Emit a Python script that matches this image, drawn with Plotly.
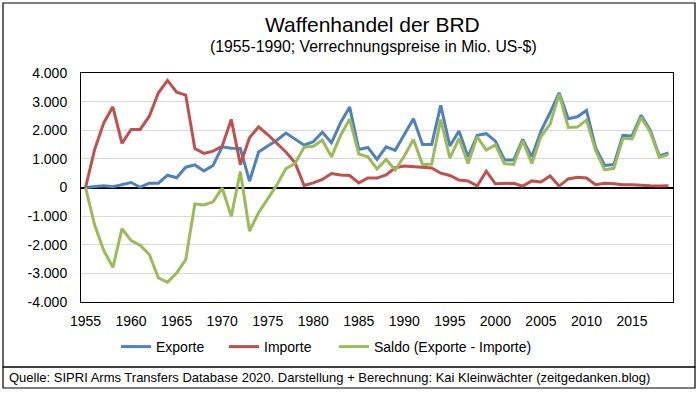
import plotly.graph_objects as go

years = list(range(1955, 2020))

exporte = [0, 20, 60, 30, 100, 175, 10, 150, 150, 430,
           340, 710, 790, 580, 770, 1420, 1370, 1360, 220, 1240,
           1450, 1650, 1900, 1700, 1480, 1600, 1930, 1560, 2260, 2810,
           1330, 1400, 980, 1420, 1300, 1850, 2400, 1500, 1500, 2870,
           1450, 1970, 1070, 1820, 1880, 1620, 960, 960, 1680, 1070,
           1970, 2610, 3310, 2400, 2470, 2690, 1390, 770, 800, 1820,
           1800, 2520, 2000, 1100, 1210]

importe = [0, 1330, 2260, 2820, 1540, 2030, 2030, 2490, 3310, 3740,
           3330, 3230, 1360, 1190, 1270, 1440, 2380, 800, 1740, 2120,
           1850, 1560, 1240, 860, 70, 160, 280, 490, 440, 420,
           160, 330, 330, 440, 690, 750, 720, 700, 680, 500,
           420, 260, 230, 50, 570, 130, 130, 150, 50, 230,
           190, 400, 50, 300, 360, 330, 100, 150, 130, 100,
           100, 70, 60, 50, 60]

saldo = [0, -1310, -2200, -2790, -1440, -1855, -2020, -2340, -3160, -3310,
         -2990, -2520, -570, -610, -500, -20, -1010, 560, -1520, -880,
         -400, 90, 660, 840, 1410, 1440, 1650, 1070, 1820, 2390,
         1170, 1070, 650, 980, 610, 1100, 1680, 800, 820, 2370,
         1030, 1710, 840, 1770, 1310, 1490, 830, 810, 1630, 840,
         1780, 2210, 3260, 2100, 2110, 2360, 1290, 620, 670, 1720,
         1700, 2450, 1940, 1050, 1150]

y_tickvals = [-4000, -3000, -2000, -1000, 0, 1000, 2000, 3000, 4000]
y_ticktext = ["-4.000", "-3.000", "-2.000", "-1.000", "0", "1.000", "2.000", "3.000", "4.000"]
x_tickvals = [1955, 1960, 1965, 1970, 1975, 1980, 1985, 1990, 1995, 2000, 2005, 2010, 2015]

series_names = ["Exporte", "Importe", "Saldo (Exporte - Importe)"]
colors = ["#4F81BD", "#C0504D", "#9BBB59"]

FONT = "Liberation Sans, Arial, sans-serif"

# plot area: x 81..673, y 73..302 in a 700x394 canvas
L, R, T, B = 81, 673, 73, 302
W, H = 700, 394

def px(x):
    return (x - L) / (R - L)

def py(y):
    return (B - y) / (B - T)

legend_ids = ["legend", "legend2", "legend3"]
legend_x = [116, 224, 334]

fig = go.Figure()
for name, vals, col, lid in zip(series_names, [exporte, importe, saldo], colors, legend_ids):
    fig.add_trace(go.Scatter(x=years, y=vals, mode="lines", name=name, legend=lid,
                             line=dict(color=col, width=3)))

legend_common = dict(orientation="h", xanchor="left", yanchor="middle", y=py(347),
                     font=dict(size=14), bgcolor="rgba(0,0,0,0)", itemwidth=30)

fig.update_layout(
    template="none",
    width=W, height=H,
    margin=dict(l=L, r=W - R, t=T, b=H - B, pad=0, autoexpand=False),
    paper_bgcolor="white", plot_bgcolor="white",
    font=dict(family=FONT, size=14, color="black"),
    showlegend=True,
    legend=dict(x=px(legend_x[0]), **legend_common),
    legend2=dict(x=px(legend_x[1]), **legend_common),
    legend3=dict(x=px(legend_x[2]), **legend_common),
    xaxis=dict(range=[1954.5, 2019.5], tickvals=x_tickvals, showgrid=False, automargin=False,
               zeroline=False, showline=True, linecolor="black", linewidth=1, mirror=True,
               ticks="", ticklabelstandoff=6, tickfont=dict(size=14)),
    yaxis=dict(range=[-4000, 4000], tickvals=y_tickvals, ticktext=y_ticktext, automargin=False,
               showgrid=True, gridcolor="#D9D9D9", gridwidth=1,
               zeroline=True, zerolinecolor="black", zerolinewidth=1.5,
               showline=True, linecolor="black", linewidth=1, mirror=True,
               ticks="", ticklabelstandoff=10, tickfont=dict(size=14)),
    annotations=[
        dict(text="Waffenhandel der BRD", xref="paper", yref="paper",
             x=px(372), y=py(25), xanchor="center", yanchor="middle",
             showarrow=False, font=dict(size=21)),
        dict(text="(1955-1990; Verrechnungspreise in Mio. US-$)", xref="paper", yref="paper",
             x=px(373), y=py(47), xanchor="center", yanchor="middle",
             showarrow=False, font=dict(size=15.8)),
        dict(text="Quelle: SIPRI Arms Transfers Database 2020. Darstellung + Berechnung: Kai Kleinwächter (zeitgedanken.blog)",
             xref="paper", yref="paper", x=px(7), y=py(377), xanchor="left", yanchor="middle",
             showarrow=False, font=dict(size=13)),
    ],
    shapes=[
        dict(type="rect", xref="paper", yref="paper", x0=px(3), x1=px(695), y0=py(367), y1=py(3),
             line=dict(color="black", width=1.2), fillcolor="rgba(0,0,0,0)", layer="above"),
        dict(type="rect", xref="paper", yref="paper", x0=px(3), x1=px(695), y0=py(388), y1=py(367),
             line=dict(color="black", width=1.2), fillcolor="rgba(0,0,0,0)", layer="above"),
    ],
)

fig.write_html("out.html", config={"displayModeBar": False},
               post_script="document.body.style.margin='0';document.body.style.padding='0';")
